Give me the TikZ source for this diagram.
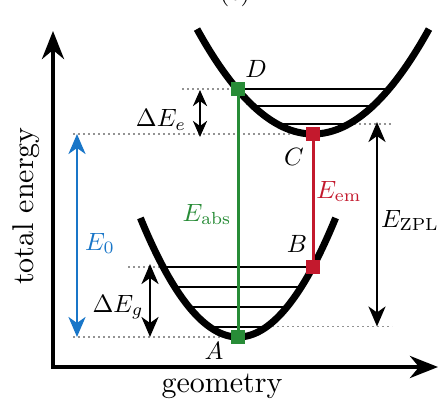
\documentclass[tikz,border=0pt]{standalone}
\usetikzlibrary{arrows.meta}
\definecolor{myblue}{RGB}{25,118,200}
\definecolor{mygreen}{RGB}{40,140,55}
\definecolor{myred}{RGB}{195,25,45}
\tikzset{
  axisline/.style={line width=4.5pt, line join=miter,
    {Stealth[length=28pt,width=22pt,inset=9pt]}-{Stealth[length=28pt,width=22pt,inset=9pt]}},
  curve/.style={line width=7pt},
  lev/.style={line width=2pt},
  dots/.style={line width=1.7pt, gray!85, dash pattern=on 1.7pt off 3.3pt},
  dbl/.style={line width=2.8pt,
    {Stealth[length=20pt,width=17pt,inset=6pt]}-{Stealth[length=20pt,width=17pt,inset=6pt]}},
  dbls/.style={line width=2.8pt,
    {Stealth[length=16pt,width=14pt,inset=5pt]}-{Stealth[length=16pt,width=14pt,inset=5pt]}},
  sq/.style={minimum size=14pt, inner sep=0pt, fill=#1},
  lab/.style={scale=2.5, inner sep=0pt, anchor=base},
  axlab/.style={scale=3, inner sep=0pt},
}
\begin{document}
\begin{tikzpicture}[x=1pt,y=-1pt]
\useasboundingbox (0,0) rectangle (439,409);
% key points
\coordinate (O) at (53,367);
\coordinate (ytip) at (53,31);
\coordinate (xtip) at (438,367);
\coordinate (A) at (238,337);
\coordinate (D) at (238,89);
\coordinate (C) at (313,134);
\coordinate (B) at (313,266.7);
% cropped panel label
\node[lab] (pl) at (235,1) {(c)};
% dotted guide lines
\draw[dots] (182,89) -- (D);
\draw[dots] (73,134) -- (C);
\draw[dots] (73,337) -- (A);
\draw[dots] (128,266.7) -- (163,266.7);
\draw[dots] (348.8,124) -- (391,124);
\draw[dots] (267,326.5) -- (392,326.5);
% upper vibrational levels
\foreach \yy in {89,106.5,124}
  \draw[lev] ({313-sqrt((134-\yy)/0.0078)},\yy) -- ({313+sqrt((134-\yy)/0.0078)},\yy);
% lower vibrational levels
\foreach \yy in {266.7,286.6,306.6,326.5}
  \draw[lev] ({238-sqrt((337-\yy)/0.0125)},\yy) -- ({238+sqrt((337-\yy)/0.0125)},\yy);
% potential curves
\draw[curve] plot[domain=197:429,samples=90] (\x,{134-0.0078*(\x-313)*(\x-313)});
\draw[curve] plot[domain=140.4:335.6,samples=90] (\x,{337-0.0125*(\x-238)*(\x-238)});
% axes
\draw[axisline] (ytip) -- (O) -- (xtip);
% transitions
\draw[mygreen,line width=3pt] (A) -- (D);
\draw[myred,line width=3pt] (C) -- (B);
\node[sq=mygreen] (Dsq) at (D) {};
\node[sq=mygreen] (Asq) at (A) {};
\node[sq=myred] (Csq) at (C) {};
\node[sq=myred] (Bsq) at (B) {};
% energy arrows
\coordinate (e0t) at (77,134);
\coordinate (e0b) at (77,337);
\draw[dbl,myblue] (e0t) -- (e0b);
\coordinate (det) at (200,90);
\coordinate (deb) at (200,137);
\draw[dbls] (det) -- (deb);
\coordinate (dgt) at (150,264);
\coordinate (dgb) at (150,337);
\draw[dbl] (dgt) -- (dgb);
\coordinate (zt) at (377,122);
\coordinate (zb) at (377,326.5);
\draw[dbl] (zt) -- (zb);
% labels
\node[lab] (lD) at (256,78) {$D$};
\node[lab] (lC) at (294,165) {$C$};
\node[lab] (lB) at (297,252) {$B$};
\node[lab] (lA) at (214,359) {$A$};
\node[lab] (lde) at (161,127) {$\Delta E_e$};
\node[lab] (ldg) at (118,312) {$\Delta E_g$};
\node[lab,myblue] (le0) at (100,250) {$E_0$};
\node[lab,mygreen] (lab) at (207,221) {$E_{\mathrm{abs}}$};
\node[lab,myred] (lem) at (339,198) {$E_{\mathrm{em}}$};
\node[lab] (lz) at (410,227) {$E_{\mathrm{ZPL}}$};
\node[axlab,anchor=base] (gx) at (222,392) {geometry};
\node[axlab,rotate=90] (gy) at (26,206) {total energy};
\end{tikzpicture}
\end{document}
